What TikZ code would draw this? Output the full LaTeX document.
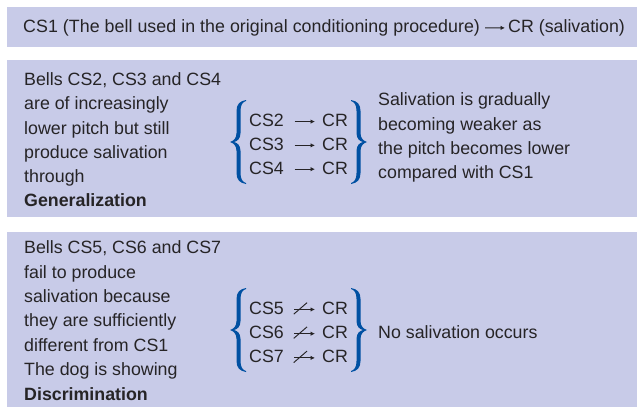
\documentclass[tikz,border=0pt]{standalone}
\usepackage{fontspec}
\setmainfont{Liberation Sans}
\usetikzlibrary{arrows.meta,calc}
\definecolor{lav}{RGB}{200,203,232}
\definecolor{ink}{RGB}{38,36,38}
\definecolor{braceblue}{RGB}{0,80,162}
\tikzset{
  panel/.style={fill=lav,draw=none},
  txt/.style={inner sep=0pt,anchor=base west,text=ink,align=left,
    font=\fontsize{17.8}{24.2}\selectfont},
  txtb/.style={txt,font=\fontsize{17.8}{24.4}\selectfont},
  arr/.style={draw=ink,line width=0.9pt,-{Latex[length=4.5pt,width=4.5pt]}},
  slash/.style={draw=ink,line width=0.95pt},
  bracefill/.style={fill=braceblue,draw=none}
}
% left brace: tip at origin, height 84, width 16 (y down)
\newcommand{\mybrace}{%
  (16,-42) .. controls (10,-41) and (6.5,-38) .. (6.5,-31) -- (6.5,-9)
  .. controls (6.5,-3) and (3,-1) .. (0,0)
  .. controls (3,1) and (6.5,3) .. (6.5,9) -- (6.5,31)
  .. controls (6.5,38) and (10,41) .. (16,42)
  -- (16,41) .. controls (12.5,40) and (10.5,37) .. (10.5,31) -- (10.5,9)
  .. controls (10.5,3) and (7,0.6) .. (3.8,0)
  .. controls (7,-0.6) and (10.5,-3) .. (10.5,-9) -- (10.5,-31)
  .. controls (10.5,-37) and (12.5,-40) .. (16,-41) -- cycle}
\begin{document}
\begin{tikzpicture}[x=1pt,y=-1pt]
\useasboundingbox (0,0) rectangle (642,407);
% panels
\fill[panel] (7,7) rectangle (637,47);
\fill[panel] (7,60) rectangle (637,217);
\fill[panel] (7,232) rectangle (637,407);

% panel 1
\node[txt,font=\fontsize{17.8}{24.2}\selectfont\addfontfeature{LetterSpace=0.3}] (cs1) at (23,32) {CS1 (The bell used in the original conditioning procedure)};
\node[txt] (cr1) at (508,32) {CR (salivation)};
\draw[arr,shorten <=5pt,shorten >=3pt] ([yshift=-0.5pt]cs1.east) -- ([yshift=-0.5pt]cr1.west);

% panel 2
\node[txt] (gen) at (24,206.7) {Bells CS2, CS3 and CS4\\are of increasingly\\lower pitch but still\\produce salivation\\through\\\textbf{Generalization}};
\node[txt] (cs2) at (249,126.7) {CS2};
\node[txt] (cs3) at (249,150.5) {CS3};
\node[txt] (cs4) at (249,174.3) {CS4};
\node[txt] (cr2) at (322,126.7) {CR};
\node[txt] (cr3) at (322,150.5) {CR};
\node[txt] (cr4) at (322,174.3) {CR};
\foreach \a/\b in {cs2/cr2,cs3/cr3,cs4/cr4}
  \draw[arr,shorten <=10.5pt,shorten >=7pt] ([yshift=-1pt]\a.east) -- ([yshift=-1pt]\b.west);
\fill[bracefill,shift={(230,142)}] \mybrace;
\fill[bracefill,shift={(367,142)},xscale=-1] \mybrace;
\node[txtb] (weaker) at (378,178.8) {Salivation is gradually\\becoming weaker as\\the pitch becomes lower\\compared with CS1};

% panel 3
\node[txtb] (disc) at (24,400) {Bells CS5, CS6 and CS7\\fail to produce\\salivation because\\they are sufficiently\\different from CS1\\The dog is showing\\\textbf{Discrimination}};
\node[txt] (cs5) at (249,314.3) {CS5};
\node[txt] (cs6) at (249,338.5) {CS6};
\node[txt] (cs7) at (249,362.7) {CS7};
\node[txt] (cr5) at (322,314.3) {CR};
\node[txt] (cr6) at (322,338.5) {CR};
\node[txt] (cr7) at (322,362.7) {CR};
\foreach \a/\b in {cs5/cr5,cs6/cr6,cs7/cr7}{
  \draw[arr,shorten <=10pt,shorten >=7pt] ([yshift=-1.3pt]\a.east) -- ([yshift=-1.3pt]\b.west);
  \draw[slash] ($(\a.east)+(9.7,6)$) -- ($(\a.east)+(23,-5.5)$);
}
\fill[bracefill,shift={(230,330)}] \mybrace;
\fill[bracefill,shift={(367,330)},xscale=-1] \mybrace;
\node[txt] (nosal) at (378,338.5) {No salivation occurs};
\end{tikzpicture}
\end{document}
